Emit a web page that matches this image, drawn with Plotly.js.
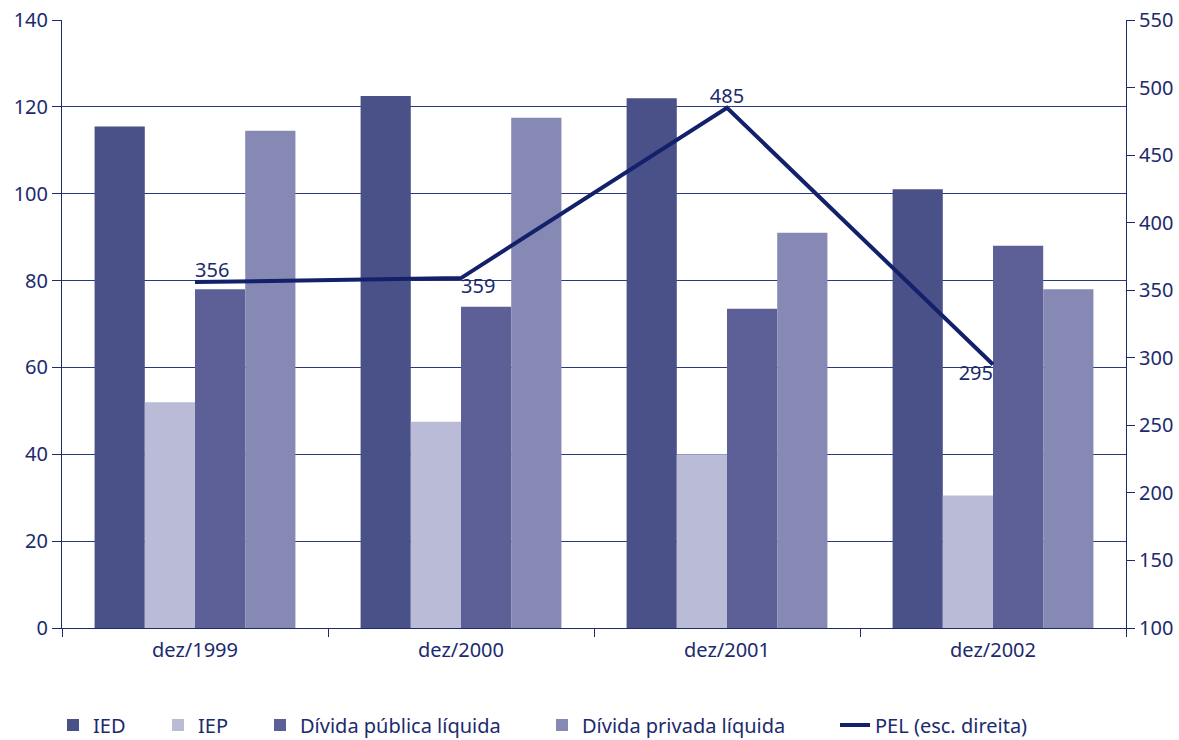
<!DOCTYPE html>
<html>
<head>
<meta charset="utf-8">
<script src="https://cdn.plot.ly/plotly-3.0.1.min.js"></script>
<style>html,body{margin:0;padding:0;background:#fff;}#chart{width:1179px;height:740px;}</style>
</head>
<body>
<div id="chart"></div>
<script>
var categories = ['dez/1999', 'dez/2000', 'dez/2001', 'dez/2002'];
var ied = [115.5, 122.5, 122, 101];
var iep = [52, 47.5, 40, 30.5];
var dividaPublica = [78, 74, 73.5, 88];
var dividaPrivada = [114.5, 117.5, 91, 78];
var pel = [356, 359, 485, 295];
var pelLabels = ['356', '359', '485', '295'];
var leftTicks = [0, 20, 40, 60, 80, 100, 120, 140];
var rightTicks = [100, 150, 200, 250, 300, 350, 400, 450, 500, 550];

var navy = '#1c2a6e';
var fontFam = 'Noto Sans, Open Sans, sans-serif';
var fs = 20;

var data = [
  {type: 'bar', name: 'IED', x: categories, y: ied, marker: {color: '#4a5088'}, legend: 'legend'},
  {type: 'bar', name: 'IEP', x: categories, y: iep, marker: {color: '#babbd6'}, legend: 'legend2'},
  {type: 'bar', name: 'Dívida pública líquida', x: categories, y: dividaPublica, marker: {color: '#5c6096'}, legend: 'legend3'},
  {type: 'bar', name: 'Dívida privada líquida', x: categories, y: dividaPrivada, marker: {color: '#8689b4'}, legend: 'legend4'},
  {type: 'scatter', mode: 'lines+text', name: 'PEL (esc. direita)', x: categories, y: pel, yaxis: 'y2',
   line: {color: '#13206a', width: 4}, text: pelLabels,
   textposition: ['top right', 'bottom right', 'top center', 'bottom left'],
   textfont: {family: fontFam, size: fs, color: navy}, legend: 'legend5'}
];

function leg(px) {
  return {orientation: 'h', x: (px - 62) / 1064, xanchor: 'left', y: -(725 - 628) / 608, yanchor: 'middle',
          font: {family: fontFam, size: fs, color: navy}, bgcolor: 'rgba(0,0,0,0)'};
}

var layout = {
  width: 1179, height: 740,
  margin: {l: 62, r: 53, t: 20, b: 112, autoexpand: false},
  paper_bgcolor: '#fff', plot_bgcolor: '#fff',
  barmode: 'group', bargap: 0.245, bargroupgap: 0,
  font: {family: fontFam, size: fs, color: navy},
  xaxis: {
    type: 'category', tickson: 'boundaries', ticks: 'outside', ticklen: 8, tickcolor: navy,
    showline: true, linecolor: navy, linewidth: 1, showgrid: false,
    tickfont: {family: fontFam, size: fs, color: navy}, ticklabelstandoff: 4
  },
  yaxis: {
    range: [0, 140], tickvals: leftTicks, ticks: 'outside', ticklen: 9, tickcolor: navy,
    showline: true, linecolor: navy, linewidth: 1, showgrid: true, gridcolor: '#2b3a80', gridwidth: 1,
    zeroline: false, tickfont: {family: fontFam, size: fs, color: navy}
  },
  yaxis2: {
    range: [100, 550], tickvals: rightTicks, overlaying: 'y', side: 'right', ticks: 'outside', ticklen: 8,
    tickcolor: navy, showline: true, linecolor: navy, linewidth: 1, showgrid: false, zeroline: false,
    tickfont: {family: fontFam, size: fs, color: navy}
  },
  legend: leg(53),
  legend2: leg(158),
  legend3: leg(260),
  legend4: leg(542),
  legend5: leg(835),
  showlegend: true
};

Plotly.newPlot('chart', data, layout, {displayModeBar: false, staticPlot: true});
</script>
</body>
</html>
